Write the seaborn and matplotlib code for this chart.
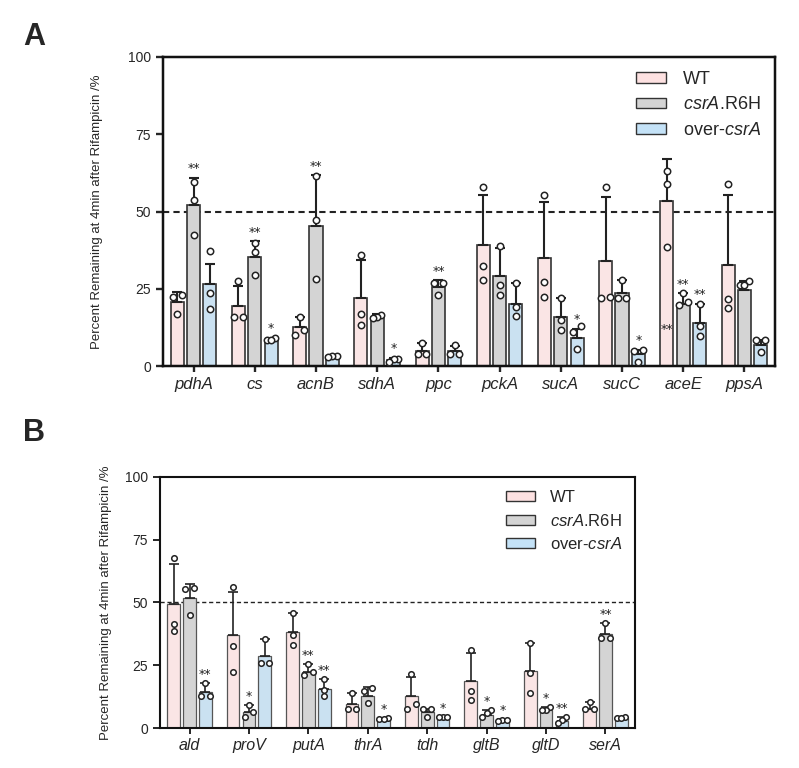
import numpy as np
import pandas as pd
import matplotlib.pyplot as plt
import seaborn as sns
from matplotlib.patches import Patch

strains = ["WT", "csrA.R6H", "over-csrA"]
bar_colors = ["#fde1e1", "#d4d4d4", "#c4e2f7"]

# ---- panel A ----
genes_a = ["pdhA", "cs", "acnB", "sdhA", "ppc", "pckA", "sucA", "sucC", "aceE", "ppsA"]
wt_mean_a = [20.7, 19.6, 12.6, 22.0, 4.9, 39.3, 35.0, 33.9, 53.4, 32.8]
wt_top_a = [24.0, 25.8, 16.0, 34.4, 7.4, 55.3, 53.0, 54.7, 66.9, 55.3]
wt_pts_a = [[23, 22.5, 16.8], [27.6, 16, 16], [16, 11.7, 10], [36, 16.8, 13.5], [7.6, 4.1, 3.9],
            [57.9, 32.3, 27.9], [55.5, 27.4, 22.5], [57.9, 22, 22.5], [63, 59, 38.7], [58.8, 21.6, 18.7]]
mut_mean_a = [52.0, 35.3, 45.2, 16.0, 25.5, 29.3, 16.0, 23.6, 20.1, 24.7]
mut_top_a = [61.0, 40.4, 61.7, 17.0, 27.9, 38.2, 22.0, 27.9, 23.6, 27.7]
mut_pts_a = [[59.7, 53.9, 42.3], [39.8, 37.1, 29.5], [61.5, 47.2, 28.1], [16.5, 16, 15.5], [27, 26.8, 23],
             [39, 26.3, 23], [22, 14.9, 11.7], [27.9, 22, 22], [23.6, 20.9, 19.8], [27.7, 26.3, 26.3]]
over_mean_a = [26.6, 8.4, 3.2, 2.0, 4.9, 20.3, 9.0, 3.9, 14.1, 6.8]
over_top_a = [33.0, 9.3, 3.6, 2.8, 6.5, 26.8, 12.2, 5.4, 20.3, 8.4]
over_pts_a = [[37.4, 23.8, 18.6], [9.3, 8.6, 8.6], [3.5, 3.3, 3.0], [2.5, 2.4, 1.4], [6.8, 4.1, 3.9],
              [26.8, 19.3, 16.2], [13, 11.1, 5.5], [5.2, 4.9, 1.4], [20.3, 13.1, 9.7], [8.4, 8.4, 4.7]]
wt_star_a = ["", "", "", "", "", "", "", "", "", ""]
mut_star_a = ["**", "**", "**", "", "**", "", "", "", "**", ""]
over_star_a = ["", "*", "", "*", "", "", "*", "*", "**", ""]
stray_star_a = ("aceE", 0, 12.0)  # stray "**" sitting inside the WT aceE bar

# ---- panel B ----
genes_b = ["ald", "proV", "putA", "thrA", "tdh", "gltB", "gltD", "serA"]
wt_mean_b = [49.3, 36.9, 38.2, 9.7, 12.9, 18.6, 22.9, 7.6]
wt_top_b = [65.3, 54.1, 46.0, 13.9, 20.3, 29.8, 33.8, 10.3]
wt_pts_b = [[67.6, 41.5, 38.5], [56, 32.8, 22.3], [46, 36.9, 32.9], [13.9, 7.7, 7.7],
            [21.6, 9.7, 7.7], [31.2, 14.6, 11.3], [33.8, 21.9, 13.9], [10.3, 7.6, 7.6]]
mut_mean_b = [51.7, 6.2, 22.5, 12.9, 6.4, 5.3, 7.0, 37.4]
mut_top_b = [57.4, 9.3, 25.5, 16.2, 7.7, 7.3, 8.4, 41.8]
mut_pts_b = [[55.7, 55.3, 45.1], [9.3, 6.2, 4.6], [25.5, 22.5, 21], [15.9, 14.6, 9.9],
             [7.7, 7.4, 4.6], [7.3, 6.0, 4.6], [8.4, 7.2, 7.0], [41.8, 35.8, 35.8]]
over_mean_b = [14.2, 28.5, 15.5, 3.3, 4.0, 2.7, 2.7, 4.0]
over_top_b = [17.9, 35.4, 19.5, 4.2, 4.6, 3.5, 4.6, 4.4]
over_pts_b = [[17.9, 12.9, 12.9], [35.4, 26.1, 25.9], [19.5, 15, 12.6], [4.0, 3.5, 3.5],
              [4.6, 4.6, 4.3], [3.3, 3.3, 2.7], [4.6, 3.3, 2.0], [4.4, 4.2, 4.2]]
wt_star_b = ["", "", "", "", "", "", "", ""]
mut_star_b = ["", "*", "**", "", "", "*", "*", "**"]
over_star_b = ["**", "", "**", "*", "*", "*", "**", ""]

sns.set_style("ticks")
plt.rcParams["font.family"] = ["Liberation Sans", "DejaVu Sans"]
plt.rcParams["mathtext.fontset"] = "custom"
plt.rcParams["mathtext.rm"] = "Liberation Sans"
plt.rcParams["mathtext.it"] = "Liberation Sans:italic"

W = 0.8


def spread(vals, tol, width=0.14):
    # GraphPad-like horizontal scatter: only points that overlap in y get pushed apart
    vals = np.asarray(vals, dtype=float)
    order = np.argsort(vals)
    offs = np.zeros(len(vals))
    groups, cur = [], [order[0]]
    for i in order[1:]:
        if vals[i] - vals[cur[-1]] < tol:
            cur.append(i)
        else:
            groups.append(cur)
            cur = [i]
    groups.append(cur)
    for g in groups:
        n = len(g)
        if n > 1:
            for j, idx in enumerate(g):
                offs[idx] = (j - (n - 1) / 2) * width / (n - 1)
    return offs


def draw_panel(ax, genes, means, tops, pts, stars, lw, edge, dash_lw, leg_size,
               tol, msize, tick_size, ypad, stray=None):
    bars = pd.DataFrame({
        "gene": np.tile(genes, 3),
        "strain": np.repeat(strains, len(genes)),
        "value": np.concatenate(means),
    })
    sns.barplot(data=bars, x="gene", y="value", hue="strain", hue_order=strains,
                palette=bar_colors, width=W, gap=0.2, errorbar=None,
                edgecolor=edge, linewidth=lw, legend=False, ax=ax, zorder=2)

    step = W / 3
    for k in range(3):
        xs = np.arange(len(genes)) + (k - 1) * step
        m = np.array(means[k])
        up = np.array(tops[k]) - m
        # upper SD only
        ax.errorbar(xs, m, yerr=[np.zeros_like(up), up], fmt="none",
                    ecolor="#222222", elinewidth=lw + 0.3, capsize=3.5,
                    capthick=lw + 0.3, zorder=3)
        for x, t, s in zip(xs, tops[k], stars[k]):
            if s:
                ax.text(x, t + 0.8, s, ha="center", va="bottom",
                        fontsize=9, family="DejaVu Sans", color="#222222", zorder=5)
        # replicate points
        for x, vals in zip(xs, pts[k]):
            ax.scatter(x + spread(vals, tol), vals, s=msize ** 2, facecolor="white",
                       edgecolor="#222222", linewidth=1.1, zorder=4)
    if stray is not None:
        g, k, y = stray
        ax.text(genes.index(g) + (k - 1) * step, y, "**", ha="center", va="center",
                fontsize=9, family="DejaVu Sans", color="#222222", zorder=5)

    ax.axhline(50, color="#222222", lw=dash_lw, ls=(0, (3, 2)), zorder=1)
    ax.set_xlim(-0.5, len(genes) - 0.5)
    ax.set_ylim(0, 100)
    ax.set_yticks([0, 25, 50, 75, 100])
    ax.set_xlabel("")
    ax.set_ylabel("Percent Remaining at 4min after Rifampicin /%", fontsize=9.5, labelpad=ypad)
    ax.set_xticks(range(len(genes)))
    ax.set_xticklabels(genes, style="italic", fontsize=tick_size)
    ax.tick_params(axis="y", labelsize=10, width=lw + 0.5, length=5)
    ax.tick_params(axis="x", width=lw + 0.5, length=4)
    for sp in ax.spines.values():
        sp.set_linewidth(lw + 0.6)
        sp.set_color("#111111")

    handles = [Patch(facecolor=c, edgecolor="#333333", linewidth=1.0) for c in bar_colors]
    labels = ["WT", r"$\it{csrA}$.R6H", r"over-$\it{csrA}$"]
    ax.legend(handles, labels, loc="upper right", frameon=False,
              prop={"family": "Liberation Sans", "size": leg_size},
              handlelength=1.7, handleheight=0.55, labelspacing=0.45,
              handletextpad=0.9, borderaxespad=0.4)


fig = plt.figure(figsize=(7.99, 7.68), dpi=100)
ax_a = fig.add_axes([0.204, 0.523, 0.766, 0.403])
ax_b = fig.add_axes([0.200, 0.052, 0.595, 0.327])

draw_panel(ax_a, genes_a,
           [wt_mean_a, mut_mean_a, over_mean_a],
           [wt_top_a, mut_top_a, over_top_a],
           [wt_pts_a, mut_pts_a, over_pts_a],
           [wt_star_a, mut_star_a, over_star_a],
           lw=1.2, edge="#333333", dash_lw=1.5, leg_size=13,
           tol=2.2, msize=4.6, tick_size=12, ypad=18, stray=stray_star_a)
draw_panel(ax_b, genes_b,
           [wt_mean_b, mut_mean_b, over_mean_b],
           [wt_top_b, mut_top_b, over_top_b],
           [wt_pts_b, mut_pts_b, over_pts_b],
           [wt_star_b, mut_star_b, over_star_b],
           lw=0.9, edge="#555555", dash_lw=1.0, leg_size=12,
           tol=2.4, msize=4.0, tick_size=11.5, ypad=9)

fig.text(0.029, 0.941, "A", fontsize=22, fontweight="bold", family="Liberation Sans")
fig.text(0.029, 0.426, "B", fontsize=22, fontweight="bold", family="Liberation Sans")

fig.savefig("out.png", dpi=100)
